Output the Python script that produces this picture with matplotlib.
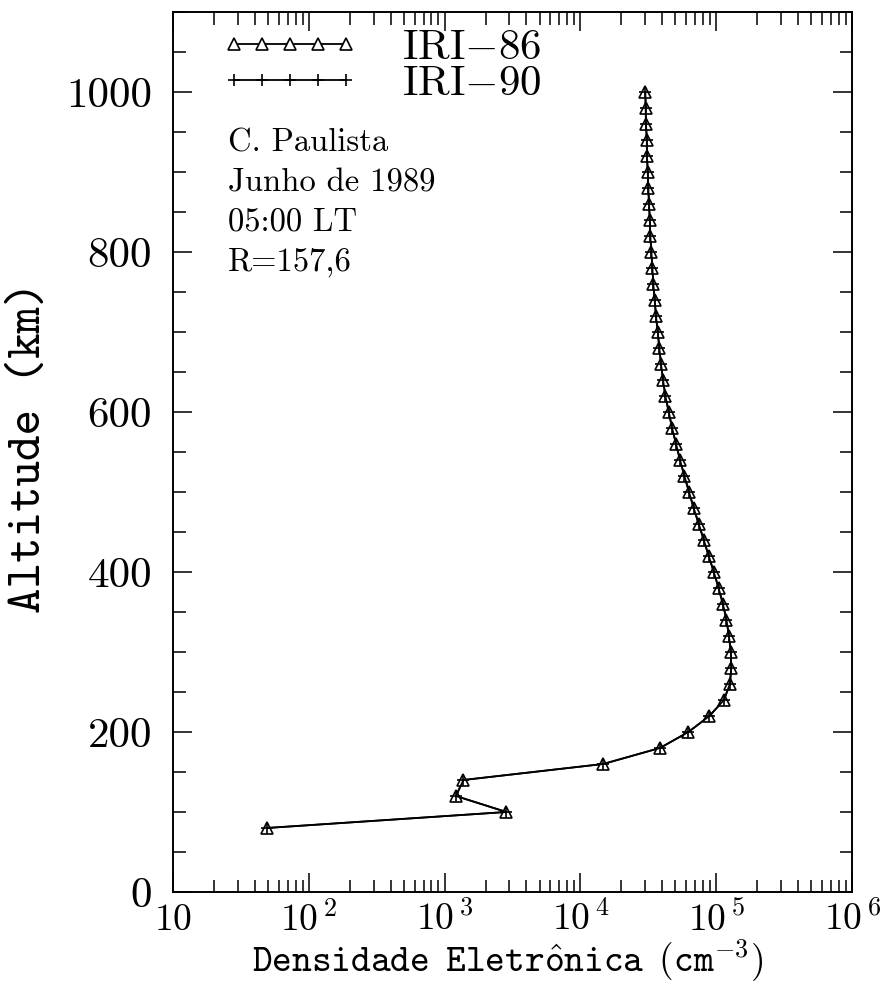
#--------------------- LIBRARIES ---------------------#

import matplotlib
matplotlib.use('Agg')
import matplotlib.pyplot as plt
from matplotlib.ticker import FixedLocator, FixedFormatter, MultipleLocator

#-----------------------------------------------------#

# Altitude (km) dos pontos, de 80 a 1000 km a cada 20 km
altitude_km = [80, 100, 120, 140, 160, 180, 200, 220, 240, 260,
               280, 300, 320, 340, 360, 380, 400, 420, 440, 460,
               480, 500, 520, 540, 560, 580, 600, 620, 640, 660,
               680, 700, 720, 740, 760, 780, 800, 820, 840, 860,
               880, 900, 920, 940, 960, 980, 1000]

# Densidade eletronica (cm^-3)
ne_iri86 = [49, 2850, 1210, 1375, 14700, 38500, 62400, 89000, 114000, 126000,
            129000, 128000, 124000, 119000, 112000, 104000, 96000, 88000, 81000, 74300,
            68200, 63000, 58300, 54100, 50600, 47300, 44700, 42200, 40600, 39200,
            38100, 37100, 36000, 35200, 34400, 33900, 33300, 32700, 32400, 32000,
            31600, 31300, 30900, 30800, 30400, 30200, 30100]

# IRI-90 coincide com IRI-86 na figura
ne_iri90 = [49, 2850, 1210, 1375, 14700, 38500, 62400, 89000, 114000, 126000,
            129000, 128000, 124000, 119000, 112000, 104000, 96000, 88000, 81000, 74300,
            68200, 63000, 58300, 54100, 50600, 47300, 44700, 42200, 40600, 39200,
            38100, 37100, 36000, 35200, 34400, 33900, 33300, 32700, 32400, 32000,
            31600, 31300, 30900, 30800, 30400, 30200, 30100]

x_ticks = [1e1, 1e2, 1e3, 1e4, 1e5, 1e6]
x_ticklabels = [r'$10$', r'$10^{\,2}$', r'$10^{\,3}$', r'$10^{\,4}$', r'$10^{\,5}$', r'$10^{\,6}$']
y_ticks = [0, 200, 400, 600, 800, 1000]
info_lines = ['C. Paulista', 'Junho de 1989', '05:00 LT', 'R=157,6']

#-----------------------------------------------------#

plt.rcParams['mathtext.fontset'] = 'cm'
plt.rcParams['axes.linewidth'] = 1.4

ROMAN = ['cmr10', 'DejaVu Serif']
MONO = ['cmtt10', 'DejaVu Sans Mono']

fig = plt.figure(figsize=(8.92, 9.84), dpi=100)
ax = fig.add_axes([0.194, 0.0935, 0.7612, 0.8943])

ax.plot(ne_iri86, altitude_km, color='black', lw=1.3, marker='^', ms=9,
        mfc='white', mec='black', mew=1.2, label=r'IRI$-$86')
ax.plot(ne_iri90, altitude_km, color='black', lw=1.3, marker='+', ms=9,
        mew=1.2, label=r'IRI$-$90')

ax.set_xscale('log')
ax.set_xlim(10, 1e6)
ax.set_ylim(0, 1100)

ax.xaxis.set_major_locator(FixedLocator(x_ticks))
ax.xaxis.set_major_formatter(FixedFormatter(x_ticklabels))
ax.yaxis.set_major_locator(FixedLocator(y_ticks))
ax.yaxis.set_minor_locator(MultipleLocator(50))

ax.tick_params(which='both', direction='in', top=True, right=True, width=1.1)
ax.tick_params(which='major', length=14)
ax.tick_params(which='minor', length=9)
ax.tick_params(axis='x', which='major', pad=7, labelsize=27)
ax.tick_params(axis='y', which='major', pad=15, labelsize=31)
for lbl in ax.get_yticklabels():
    lbl.set_family(ROMAN)

# rotulos em cmtt (mathtext) para ter o acento e o expoente
ax.set_xlabel(r'$\mathtt{Densidade\enspace Eletr\hat{o}nica\enspace (cm}^{-3}\mathtt{)}$',
              fontsize=27, va='baseline')
ax.xaxis.set_label_coords(0.493, -0.0909)
ax.set_ylabel('Altitude (km)', family=MONO, fontsize=35, va='center')
ax.yaxis.set_label_coords(-0.211, 0.506)

leg = ax.legend(loc='upper left', bbox_to_anchor=(0.045, 1.0), frameon=False,
                numpoints=5, handlelength=3.2, handletextpad=1.0,
                labelspacing=-0.05, borderaxespad=0.0,
                prop={'family': ROMAN, 'size': 31})

for i, line in enumerate(info_lines):
    ax.text(0.081, 0.851 - i * 0.045, line, transform=ax.transAxes,
            family=ROMAN, fontsize=23.5, va='center', ha='left')

plt.savefig('out.png', dpi=100)
